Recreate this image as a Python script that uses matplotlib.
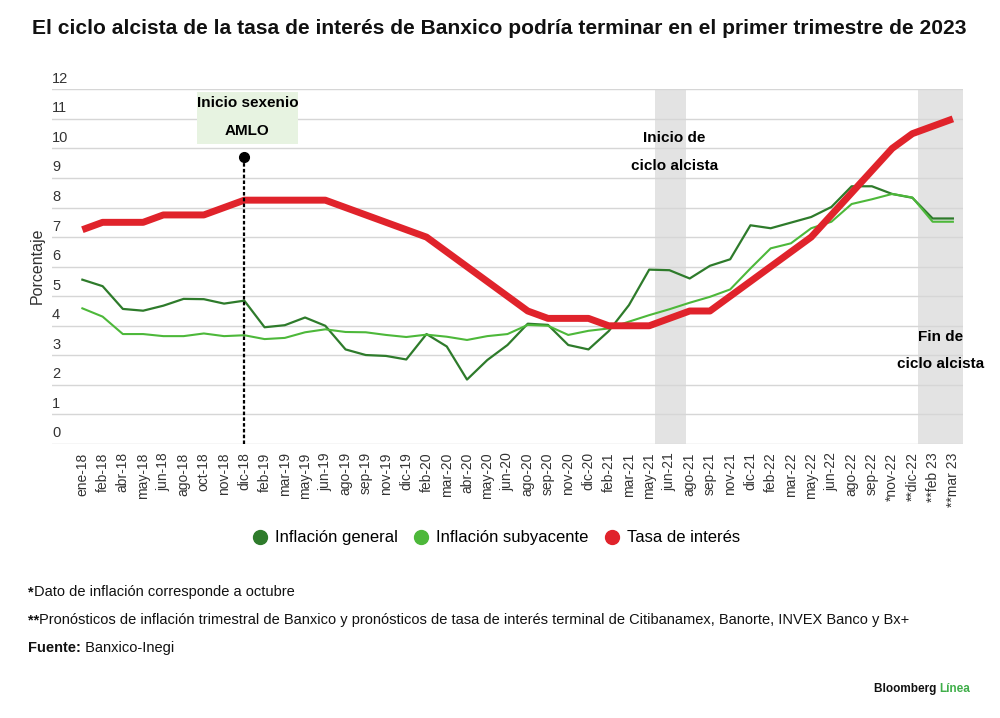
import matplotlib
matplotlib.use("Agg")
import matplotlib.pyplot as plt
from matplotlib.lines import Line2D
from matplotlib.patches import Rectangle

plt.rcParams['font.family'] = ['Liberation Sans', 'DejaVu Sans']

labels = ["ene-18", "feb-18", "abr-18", "may-18", "jun-18", "ago-18", "oct-18", "nov-18", "dic-18",
          "feb-19", "mar-19", "may-19", "jun-19", "ago-19", "sep-19", "nov-19", "dic-19",
          "feb-20", "mar-20", "abr-20", "may-20", "jun-20", "ago-20", "sep-20", "nov-20", "dic-20",
          "feb-21", "mar-21", "may-21", "jun-21", "ago-21", "sep-21", "nov-21", "dic-21",
          "feb-22", "mar-22", "may-22", "jun-22", "ago-22", "sep-22", "*nov-22", "**dic-22",
          "**feb 23", "**mar 23"]

inflacion_general = [5.56, 5.34, 4.57, 4.51, 4.68, 4.91, 4.90, 4.75, 4.85,
                     3.95, 4.02, 4.28, 4.00, 3.20, 3.01, 2.98, 2.86,
                     3.72, 3.30, 2.18, 2.84, 3.35, 4.07, 4.03, 3.35, 3.20,
                     3.82, 4.70, 5.90, 5.88, 5.60, 6.03, 6.25, 7.40,
                     7.30, 7.49, 7.68, 8.02, 8.72, 8.72, 8.46, 8.33,
                     7.63, 7.63]

inflacion_subyacente = [4.59, 4.31, 3.72, 3.72, 3.65, 3.65, 3.74, 3.65, 3.68,
                        3.55, 3.59, 3.78, 3.88, 3.79, 3.78, 3.69, 3.62,
                        3.70, 3.63, 3.52, 3.65, 3.72, 4.03, 4.00, 3.69, 3.83,
                        3.91, 4.14, 4.36, 4.56, 4.78, 4.98, 5.23, 5.94,
                        6.62, 6.79, 7.30, 7.52, 8.12, 8.28, 8.46, 8.34,
                        7.52, 7.52]

tasa_interes = [7.25, 7.50, 7.50, 7.50, 7.75, 7.75, 7.75, 8.00, 8.25,
                8.25, 8.25, 8.25, 8.25, 8.00, 7.75, 7.50, 7.25,
                7.00, 6.50, 6.00, 5.50, 5.00, 4.50, 4.25, 4.25, 4.25,
                4.00, 4.00, 4.00, 4.25, 4.50, 4.50, 5.00, 5.50,
                6.00, 6.50, 7.00, 7.75, 8.50, 9.25, 10.00, 10.50,
                10.75, 11.00]

yticks = list(range(0, 13))

c_gen = "#2e7b2b"
c_sub = "#4db83a"
c_tasa = "#e0232b"

fig = plt.figure(figsize=(10, 7.18), dpi=100)
ax = fig.add_axes([0.052, 0.3816, 0.911, 0.4940])

x = list(range(len(labels)))
ax.set_xlim(-1.5, 43.5)
ax.set_ylim(0, 12)

# shaded regions
ax.axvspan(28.3, 29.8, color="#e3e3e3", zorder=0, lw=0)
ax.axvspan(41.3, 43.5, color="#e3e3e3", zorder=0, lw=0)

# grid
for v in yticks:
    ax.axhline(v, color="#d6d6d6", lw=1.0, zorder=1)
    ax.text(-1.5, v + 0.12, str(v), ha="left", va="bottom", fontsize=10.5, color="#333333")

ax.plot(x, inflacion_general, color=c_gen, lw=1.6, zorder=3)
ax.plot(x, inflacion_subyacente, color=c_sub, lw=1.5, zorder=3)
ax.plot(x, tasa_interes, color=c_tasa, lw=5.0, zorder=4, solid_capstyle="butt", solid_joinstyle="round")

# AMLO annotation
ax.plot([8, 8], [0, 9.72], color="black", lw=1.6, ls=(0, (1.6, 1.0)), zorder=5, clip_on=False)
ax.plot([8], [9.72], marker="o", color="black", markersize=7, zorder=6)
ax.add_patch(Rectangle((5.65, 10.15), 5.0, 1.77, facecolor="#e7f3e1", edgecolor="none", zorder=2))
ax.text(8.15, 11.53, "Inicio sexenio", ha="center", va="center", fontsize=11, fontweight="bold")
ax.text(8.15, 10.6, "AMLO", ha="center", va="center", fontsize=11, fontweight="bold")

ax.text(29.25, 10.35, "Inicio de", ha="center", va="center", fontsize=11, fontweight="bold", zorder=6)
ax.text(29.25, 9.4, "ciclo alcista", ha="center", va="center", fontsize=11, fontweight="bold", zorder=6)
ax.text(42.4, 3.63, "Fin de", ha="center", va="center", fontsize=11, fontweight="bold", zorder=6, clip_on=False)
ax.text(42.4, 2.71, "ciclo alcista", ha="center", va="center", fontsize=11, fontweight="bold", zorder=6, clip_on=False)

ax.set_xticks(x)
ax.set_xticklabels(labels, rotation=90, fontsize=10, color="#333333")
ax.tick_params(axis="x", length=0, pad=6)
ax.set_yticks([])
for s in ax.spines.values():
    s.set_visible(False)

fig.text(0.037, 0.63, "Porcentaje", rotation=90, ha="center", va="center", fontsize=11.5, color="#333333")

fig.text(0.4995, 0.961, "El ciclo alcista de la tasa de interés de Banxico podría terminar en el primer trimestre de 2023",
         ha="center", va="center", fontsize=15.1, fontweight="bold", color="#111111")

handles = [Line2D([], [], ls="none", marker="o", markersize=10, color=c) for c in (c_gen, c_sub, c_tasa)]
fig.legend(handles, ["Inflación general", "Inflación subyacente", "Tasa de interés"],
           loc="center", bbox_to_anchor=(0.496, 0.2507), ncol=3, frameon=False, fontsize=12,
           handletextpad=0.4, columnspacing=0.9, handlelength=1.0)

renderer = fig.canvas.get_renderer()

def mixed(xpix, ypix, parts, size=10.5):
    xx = xpix
    for txt, bold, col in parts:
        t = fig.text(xx / 1000, 1 - ypix / 718, txt, ha="left", va="center", fontsize=size,
                     fontweight="bold" if bold else "normal", color=col)
        bb = t.get_window_extent(renderer=renderer)
        xx += bb.width

mixed(28, 592, [("*", True, "#111111"), ("Dato de inflación corresponde a octubre", False, "#111111")])
mixed(28, 620, [("**", True, "#111111"), ("Pronósticos de inflación trimestral de Banxico y pronósticos de tasa de interés terminal de Citibanamex, Banorte, INVEX Banco y Bx+", False, "#111111")])
mixed(28, 648, [("Fuente:", True, "#111111"), (" Banxico-Inegi", False, "#111111")])
mixed(874, 689, [("Bloomberg ", True, "#111111"), ("Línea", True, "#3fae49")], size=8.5)

fig.savefig("out.png", dpi=100)
